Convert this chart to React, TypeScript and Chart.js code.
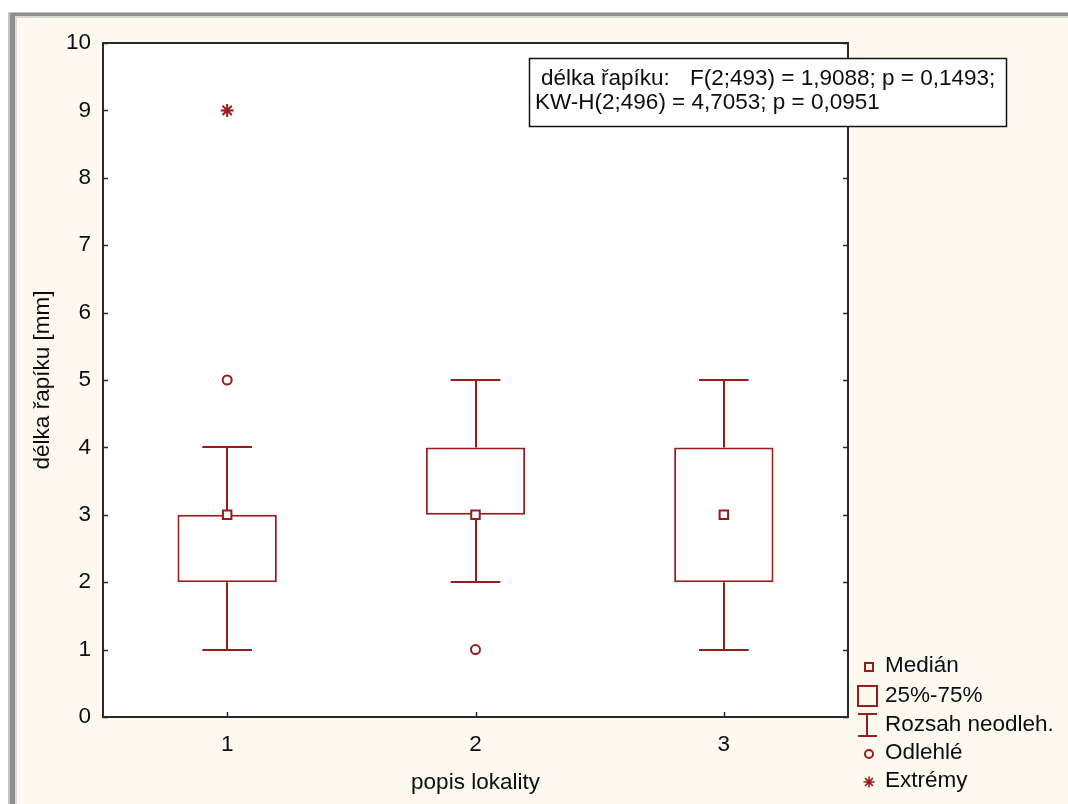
import React, { useEffect, useRef } from "react";
import { Chart, registerables } from "chart.js";

Chart.register(...registerables);

const categories = [1, 2, 3];
const xTickLabels = ["1", "2", "3"];
const q1 = [2, 3, 2];
const q3 = [3, 4, 4];
const medians = [3, 3, 3];
const whiskerLow = [1, 2, 1];
const whiskerHigh = [4, 5, 5];
const outlierX = [1, 2];
const outlierY = [5, 1];
const extremeX = [1];
const extremeY = [9];
const yTickValues = [0, 1, 2, 3, 4, 5, 6, 7, 8, 9, 10];
const xAxisTitle = "popis lokality";
const yAxisTitle = "délka řapíku [mm]";
const statLabel = "délka řapíku:";
const statLine1 = "F(2;493) = 1,9088; p = 0,1493;";
const statLine2 = "KW-H(2;496) = 4,7053; p = 0,0951";
const legendLabels = ["Medián", "25%-75%", "Rozsah neodleh.", "Odlehlé", "Extrémy"];

const RED = "#981c1c";
const CREAM = "#fef9ee";
const FONT = "'Liberation Sans', Arial, sans-serif";
const TEXT = "#0c0c14";
const FS = 22.5;

const framePlugin = {
  id: "frame",
  beforeDraw(chart: any) {
    const { ctx, width, height, chartArea } = chart;
    ctx.save();
    ctx.fillStyle = "#ffffff";
    ctx.fillRect(0, 0, width, height);
    ctx.fillStyle = "#8e8e8e";
    ctx.fillRect(8, 12, width - 8, 6);
    ctx.fillRect(8, 12, 9, height - 12);
    ctx.fillStyle = "#c4c4c4";
    ctx.fillRect(8, 12, width - 8, 1);
    ctx.fillRect(8, 12, 2, height - 12);
    ctx.fillStyle = "#d8d8d8";
    ctx.fillRect(15, 17, 2, height - 17);
    ctx.fillRect(15, 16, width - 15, 2);
    ctx.fillStyle = CREAM;
    ctx.fillRect(17, 18, width - 17, height - 18);
    ctx.fillStyle = "#ffffff";
    ctx.fillRect(chartArea.left, chartArea.top, chartArea.right - chartArea.left, chartArea.bottom - chartArea.top);
    ctx.restore();
  },
  beforeDatasetsDraw(chart: any) {
    const { ctx } = chart;
    const xs = chart.scales.x;
    const ys = chart.scales.y;
    ctx.save();
    ctx.strokeStyle = RED;
    ctx.lineWidth = 2;
    categories.forEach((c, i) => {
      const cx = Math.round(xs.getPixelForValue(c));
      const capL = xs.getPixelForValue(c - 0.1);
      const capR = xs.getPixelForValue(c + 0.1);
      const yHi = Math.round(ys.getPixelForValue(whiskerHigh[i]));
      const yLo = Math.round(ys.getPixelForValue(whiskerLow[i]));
      const yQ3 = ys.getPixelForValue(q3[i]);
      const yQ1 = ys.getPixelForValue(q1[i]);
      ctx.beginPath();
      ctx.moveTo(cx, yQ3);
      ctx.lineTo(cx, yHi);
      ctx.moveTo(capL, yHi);
      ctx.lineTo(capR, yHi);
      ctx.moveTo(cx, yQ1);
      ctx.lineTo(cx, yLo);
      ctx.moveTo(capL, yLo);
      ctx.lineTo(capR, yLo);
      ctx.stroke();
    });
    ctx.restore();
  },
  afterDatasetsDraw(chart: any) {
    const { ctx, chartArea } = chart;
    const xs = chart.scales.x;
    const ys = chart.scales.y;
    const { left, right, top, bottom } = chartArea;
    ctx.save();
    ctx.strokeStyle = "#2a2a2a";
    ctx.lineWidth = 2;
    ctx.strokeRect(left, top, right - left, bottom - top);
    ctx.beginPath();
    yTickValues.forEach((v) => {
      const y = Math.round(ys.getPixelForValue(v)) + 0.5;
      ctx.moveTo(left, y);
      ctx.lineTo(left + 5, y);
      ctx.moveTo(right, y);
      ctx.lineTo(right - 5, y);
    });
    categories.forEach((c) => {
      const x = Math.round(xs.getPixelForValue(c)) + 0.5;
      ctx.moveTo(x, bottom);
      ctx.lineTo(x, bottom - 5);
    });
    ctx.lineWidth = 1.5;
    ctx.stroke();

    // statistics box
    ctx.fillStyle = "#ffffff";
    ctx.fillRect(529, 58, 477, 68);
    ctx.strokeStyle = "#111111";
    ctx.lineWidth = 1.5;
    ctx.strokeRect(529.5, 58.5, 477, 68);
    ctx.fillStyle = TEXT;
    ctx.font = `${FS}px ${FONT}`;
    ctx.textBaseline = "middle";
    ctx.textAlign = "left";
    ctx.fillText(statLabel, 541, 79);
    ctx.fillText(statLine1, 690, 79);
    ctx.fillText(statLine2, 535, 103);

    // legend
    const rows = [666, 696, 725, 753, 781];
    ctx.strokeStyle = RED;
    ctx.lineWidth = 2;
    ctx.strokeRect(865, rows[0] - 3, 8, 8);
    ctx.strokeRect(858, 686, 19, 20);
    ctx.beginPath();
    ctx.moveTo(867, 714);
    ctx.lineTo(867, 736);
    ctx.moveTo(858, 714);
    ctx.lineTo(877, 714);
    ctx.moveTo(858, 736);
    ctx.lineTo(877, 736);
    ctx.stroke();
    ctx.beginPath();
    ctx.arc(869, rows[3] + 1, 4, 0, Math.PI * 2);
    ctx.stroke();
    ctx.lineWidth = 1.6;
    ctx.beginPath();
    for (let k = 0; k < 4; k++) {
      const a = (k * Math.PI) / 4;
      ctx.moveTo(869 - 5.5 * Math.cos(a), rows[4] + 1 - 5.5 * Math.sin(a));
      ctx.lineTo(869 + 5.5 * Math.cos(a), rows[4] + 1 + 5.5 * Math.sin(a));
    }
    ctx.stroke();
    ctx.fillStyle = TEXT;
    legendLabels.forEach((t, i) => {
      ctx.fillText(t, 885, rows[i]);
    });
    ctx.restore();
  },
};

export default function App() {
  const ref = useRef<HTMLCanvasElement | null>(null);

  useEffect(() => {
    if (!ref.current) return;
    const chart = new Chart(ref.current, {
      type: "bar",
      data: {
        datasets: [
          {
            type: "scatter",
            label: "Medián",
            data: categories.map((c, i) => ({ x: c, y: medians[i] })),
            pointStyle: "rect",
            pointRadius: 6,
            pointBorderWidth: 2,
            pointBorderColor: RED,
            pointBackgroundColor: "#ffffff",
            order: 0,
          } as any,
          {
            type: "scatter",
            label: "Odlehlé",
            data: outlierX.map((x, i) => ({ x, y: outlierY[i] })),
            pointStyle: "circle",
            pointRadius: 4.5,
            pointBorderWidth: 2,
            pointBorderColor: RED,
            pointBackgroundColor: "#ffffff",
            order: 1,
          } as any,
          {
            type: "scatter",
            label: "Extrémy",
            data: extremeX.map((x, i) => ({ x, y: extremeY[i] })),
            pointStyle: "star",
            pointRadius: 6.5,
            pointBorderWidth: 2,
            pointBorderColor: RED,
            pointBackgroundColor: RED,
            order: 2,
          } as any,
          {
            type: "bar",
            label: "25%-75%",
            data: categories.map((c, i) => ({ x: c, y: [q1[i], q3[i]] })),
            backgroundColor: "#ffffff",
            borderColor: RED,
            borderWidth: 2,
            borderSkipped: false,
            barPercentage: 0.4,
            categoryPercentage: 1,
            order: 3,
          } as any,
        ],
      },
      options: {
        responsive: false,
        animation: false,
        devicePixelRatio: 1,
        layout: { padding: { left: 0, top: 43, right: 220, bottom: 0 } },
        plugins: {
          legend: { display: false },
          tooltip: { enabled: false },
        },
        scales: {
          x: {
            type: "linear",
            min: 0.5,
            max: 3.5,
            offset: false,
            grid: { display: false, drawTicks: false, offset: false },
            border: { display: false },
            afterBuildTicks: (s: any) => {
              s.ticks = categories.map((v) => ({ value: v }));
            },
            afterFit: (s: any) => {
              s.height = 87;
            },
            ticks: {
              color: TEXT,
              font: { family: FONT, size: FS },
              padding: 14,
              maxRotation: 0,
              autoSkip: false,
              callback: (v: any) => {
                const idx = categories.indexOf(Number(v));
                return idx >= 0 ? xTickLabels[idx] : "";
              },
            },
            title: {
              display: true,
              text: xAxisTitle,
              color: TEXT,
              font: { family: FONT, size: FS },
              padding: { top: 0, bottom: 8 },
            },
          },
          y: {
            type: "linear",
            min: 0,
            max: 10,
            grid: { display: false, drawTicks: false },
            border: { display: false },
            afterBuildTicks: (s: any) => {
              s.ticks = yTickValues.map((v) => ({ value: v }));
            },
            afterFit: (s: any) => {
              s.width = 103;
            },
            ticks: {
              color: TEXT,
              font: { family: FONT, size: FS },
              padding: 12,
              autoSkip: false,
            },
            title: {
              display: true,
              text: yAxisTitle,
              color: TEXT,
              font: { family: FONT, size: FS },
              padding: { top: 29, bottom: 0 },
            },
          },
        },
      },
      plugins: [framePlugin],
    });
    return () => chart.destroy();
  }, []);

  return (
    <canvas
      ref={ref}
      width={1068}
      height={804}
      style={{ position: "fixed", left: 0, top: 0, width: 1068, height: 804, display: "block" }}
    />
  );
}
